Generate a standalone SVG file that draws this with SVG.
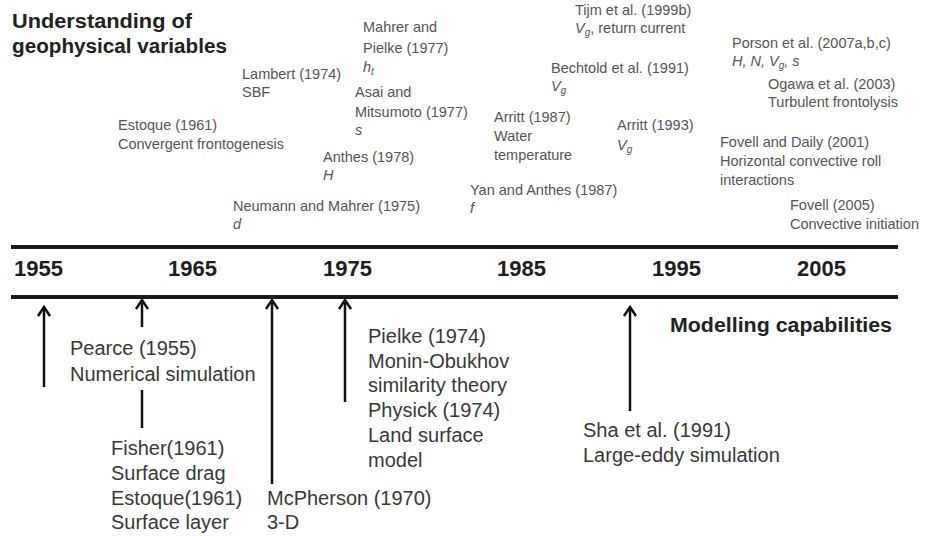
<svg xmlns="http://www.w3.org/2000/svg" width="926" height="536" viewBox="0 0 926 536">
<style>
  .title { font-family: "Liberation Sans", Arial, sans-serif; font-size: 20px; font-weight: bold; fill: #222; }
  .year { font-family: "Liberation Sans", Arial, sans-serif; font-size: 22px; font-weight: bold; fill: #1e1e1e; }
  .top { font-family: "Liberation Sans", Arial, sans-serif; font-size: 14.5px; fill: #555; }
  .bot { font-family: "Liberation Sans", Arial, sans-serif; font-size: 20px; fill: #383838; }
  .it { font-style: italic; }
  .sub { font-size: 10px; }
  .axis { stroke: #1a1a1a; stroke-width: 4; fill: none; }
  .arrow { stroke: #111; stroke-width: 2.5; fill: none; marker-end: url(#head); }
  .plain { stroke: #111; stroke-width: 2.5; fill: none; }
</style>
<defs>
  <marker id="head" markerUnits="userSpaceOnUse" markerWidth="14" markerHeight="16" viewBox="-11 -8 13 16" refX="0" refY="0" orient="auto">
    <path d="M-9,-6 L0,0 L-9,6" stroke="#111" stroke-width="2.5" fill="none"/>
  </marker>
</defs>
<rect width="926" height="536" fill="#fff"/>

<g id="connectors">
  <line class="axis" x1="11" y1="247" x2="898" y2="247"/>
  <line class="axis" x1="11" y1="297" x2="898" y2="297"/>
  <path class="arrow" d="M44 387 V307"/>
  <path class="arrow" d="M142 327 V300"/>
  <path class="plain" d="M142 390 V428"/>
  <path class="arrow" d="M272 484 V300"/>
  <path class="arrow" d="M345 402 V300"/>
  <path class="arrow" d="M630 411 V307"/>
</g>

<g id="headings">
  <text class="title" x="12" y="28" textLength="180" lengthAdjust="spacingAndGlyphs">Understanding of</text>
  <text class="title" x="12" y="53" textLength="215" lengthAdjust="spacingAndGlyphs">geophysical variables</text>
  <text class="title" x="670" y="332" textLength="222" lengthAdjust="spacingAndGlyphs">Modelling capabilities</text>
</g>

<g id="years">
  <text class="year" x="14" y="276">1955</text>
  <text class="year" x="168" y="276">1965</text>
  <text class="year" x="323" y="276">1975</text>
  <text class="year" x="497" y="276">1985</text>
  <text class="year" x="652" y="276">1995</text>
  <text class="year" x="797" y="276">2005</text>
</g>

<g id="estoque1961">
  <text class="top" x="118" y="130">Estoque (1961)</text>
  <text class="top" x="118" y="149">Convergent frontogenesis</text>
</g>
<g id="lambert1974">
  <text class="top" x="242" y="79">Lambert (1974)</text>
  <text class="top" x="242" y="97">SBF</text>
</g>
<g id="mahrer1977">
  <text class="top" x="363" y="32">Mahrer and</text>
  <text class="top" x="363" y="53">Pielke (1977)</text>
  <text class="top it" x="363" y="72">h<tspan class="sub" dy="3">t</tspan></text>
</g>
<g id="asai1977">
  <text class="top" x="355" y="97">Asai and</text>
  <text class="top" x="355" y="117">Mitsumoto (1977)</text>
  <text class="top it" x="355" y="135">s</text>
</g>
<g id="anthes1978">
  <text class="top" x="323" y="162">Anthes (1978)</text>
  <text class="top it" x="323" y="180">H</text>
</g>
<g id="neumann1975">
  <text class="top" x="233" y="211">Neumann and Mahrer (1975)</text>
  <text class="top it" x="233" y="229">d</text>
</g>
<g id="yan1987">
  <text class="top" x="470" y="195">Yan and Anthes (1987)</text>
  <text class="top it" x="470" y="213">f</text>
</g>
<g id="arritt1987">
  <text class="top" x="494" y="122">Arritt (1987)</text>
  <text class="top" x="494" y="141">Water</text>
  <text class="top" x="494" y="160">temperature</text>
</g>
<g id="bechtold1991">
  <text class="top" x="551" y="73">Bechtold et al. (1991)</text>
  <text class="top it" x="551" y="91">V<tspan class="sub" dy="3">g</tspan></text>
</g>
<g id="tijm1999">
  <text class="top" x="575" y="15">Tijm et al. (1999b)</text>
  <text class="top" x="575" y="33"><tspan class="it">V</tspan><tspan class="sub it" dy="3">g</tspan><tspan dy="-3">, return current</tspan></text>
</g>
<g id="arritt1993">
  <text class="top" x="617" y="130">Arritt (1993)</text>
  <text class="top it" x="617" y="150">V<tspan class="sub" dy="3">g</tspan></text>
</g>
<g id="porson2007">
  <text class="top" x="732" y="48">Porson et al. (2007a,b,c)</text>
  <text class="top it" x="732" y="66">H, N, V<tspan class="sub" dy="3">g</tspan><tspan dy="-3">, s</tspan></text>
</g>
<g id="ogawa2003">
  <text class="top" x="768" y="89">Ogawa et al. (2003)</text>
  <text class="top" x="768" y="107">Turbulent frontolysis</text>
</g>
<g id="fovell2001">
  <text class="top" x="720" y="147">Fovell and Daily (2001)</text>
  <text class="top" x="720" y="166">Horizontal convective roll</text>
  <text class="top" x="720" y="185">interactions</text>
</g>
<g id="fovell2005">
  <text class="top" x="790" y="210">Fovell (2005)</text>
  <text class="top" x="790" y="229">Convective initiation</text>
</g>

<g id="pearce1955">
  <text class="bot" x="70" y="355">Pearce (1955)</text>
  <text class="bot" x="70" y="381">Numerical simulation</text>
</g>
<g id="fisher1961">
  <text class="bot" x="111" y="455">Fisher(1961)</text>
  <text class="bot" x="111" y="480">Surface drag</text>
  <text class="bot" x="111" y="505">Estoque(1961)</text>
  <text class="bot" x="111" y="529">Surface layer</text>
</g>
<g id="mcpherson1970">
  <text class="bot" x="267" y="505">McPherson (1970)</text>
  <text class="bot" x="267" y="529">3-D</text>
</g>
<g id="pielke1974">
  <text class="bot" x="368" y="343">Pielke (1974)</text>
  <text class="bot" x="368" y="368">Monin-Obukhov</text>
  <text class="bot" x="368" y="392">similarity theory</text>
  <text class="bot" x="368" y="417">Physick (1974)</text>
  <text class="bot" x="368" y="442">Land surface</text>
  <text class="bot" x="368" y="467">model</text>
</g>
<g id="sha1991">
  <text class="bot" x="583" y="437">Sha et al. (1991)</text>
  <text class="bot" x="583" y="462">Large-eddy simulation</text>
</g>
</svg>
